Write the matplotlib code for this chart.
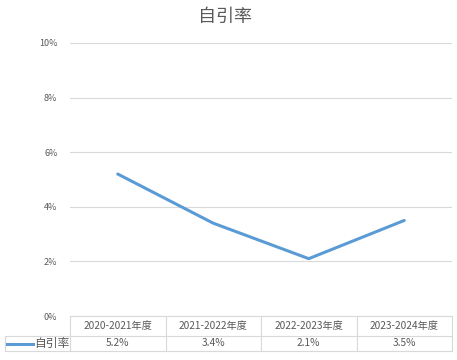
import matplotlib
matplotlib.use("Agg")
import matplotlib.pyplot as plt
from matplotlib.lines import Line2D

plt.rcParams['font.family'] = ['Noto Sans CJK SC', 'DejaVu Sans']

# ---- 数据 ----
categories = ['2020-2021年度', '2021-2022年度', '2022-2023年度', '2023-2024年度']
self_cite = [5.2, 3.4, 2.1, 3.5]
series_name = '自引率'
title = '自引率'
yticks = [0, 2, 4, 6, 8, 10]

LINE_C = '#5B9BD5'
GRID_C = '#D9D9D9'
TEXT_C = '#595959'

fig = plt.figure(figsize=(4.57, 3.6), dpi=100)
ax = fig.add_axes([70 / 457, 1 - 316 / 360, 382 / 457, 273 / 360])

x = list(range(len(categories)))
ax.plot(x, self_cite, color=LINE_C, lw=2.2, solid_capstyle='round')

ax.set_xlim(-0.5, len(categories) - 0.5)
ax.set_ylim(0, 10)
ax.set_yticks(yticks)
ax.set_yticklabels([f'{v}%' for v in yticks], fontsize=6.5, color=TEXT_C)
ax.tick_params(axis='y', length=0, pad=9)
ax.set_xticks([])
ax.grid(axis='y', color=GRID_C, lw=0.8)
ax.set_axisbelow(True)
for s in ax.spines.values():
    s.set_visible(False)

fig.text(225 / 457, 1 - 17 / 360, title, ha='center', va='center',
         fontsize=13, color=TEXT_C, fontweight='light')

# ---- 数据表 ----
tr = ax.get_xaxis_transform()
y_top, y_mid, y_bot = 0.0, -20 / 273, -35 / 273
x_left = -0.5 - 65 / 95.5
x_right = len(categories) - 0.5
kw = dict(color=GRID_C, lw=0.8, transform=tr, clip_on=False)
for yy, xl in [(y_top, -0.5), (y_mid, x_left), (y_bot, x_left)]:
    ax.add_line(Line2D([xl, x_right], [yy, yy], **kw))
for i in range(len(categories) + 1):
    ax.add_line(Line2D([i - 0.5, i - 0.5], [y_top, y_bot], **kw))
ax.add_line(Line2D([x_left, x_left], [y_mid, y_bot], **kw))

for i, (cat, v) in enumerate(zip(categories, self_cite)):
    ax.text(i, (y_top + y_mid) / 2, cat, transform=tr, ha='center', va='center',
            fontsize=7.3, color=TEXT_C, clip_on=False)
    ax.text(i, (y_mid + y_bot) / 2, f'{v}%', transform=tr, ha='center', va='center',
            fontsize=7.3, color=TEXT_C, clip_on=False)

ym = (y_mid + y_bot) / 2
ax.add_line(Line2D([x_left + 0.02, x_left + 0.29], [ym, ym], color=LINE_C, lw=2.2,
                   transform=tr, clip_on=False))
ax.text(x_left + 0.30, ym, series_name, transform=tr, ha='left', va='center',
        fontsize=8.5, color=TEXT_C, clip_on=False)

fig.savefig('out.png', dpi=100, facecolor='white')
